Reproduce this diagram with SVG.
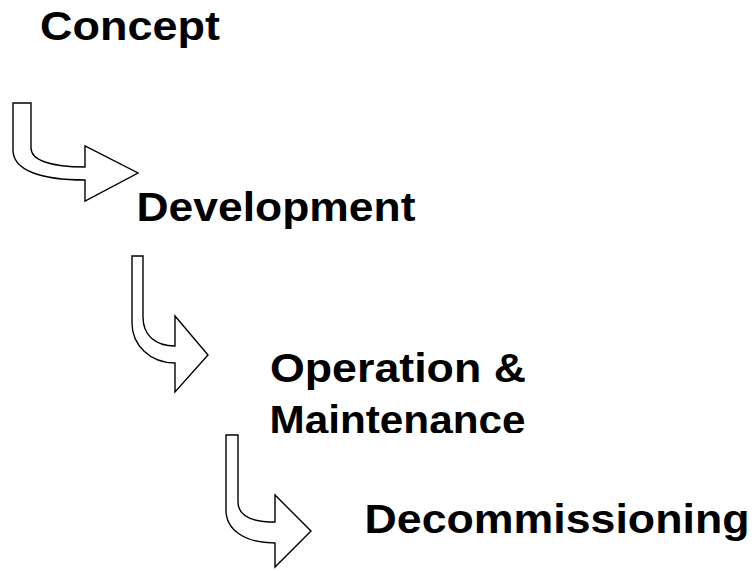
<svg xmlns="http://www.w3.org/2000/svg" width="755" height="571" viewBox="0 0 755 571">
<style>
.lbl{font-family:"Liberation Sans",Arial,sans-serif;font-weight:bold;font-size:40px;fill:#000}
.arr{fill:#fff;stroke:#000;stroke-width:1.4;stroke-linejoin:miter}
</style>
<defs><clipPath id="clipM"><rect x="250" y="390" width="300" height="43"/></clipPath></defs>
<rect width="755" height="571" fill="#fff"/>
<g id="connectors">
<path class="arr" d="M13,103 L31,103 L31,148 C31,160 50,167 85,167 L85,146 L138,173 L85,201 L85,180 C40,180 13,170 13,150 Z"/>
<path class="arr" d="M132,256 L143,256 L143,317 C143,335 155,346 175,346 L175,316 L208,355 L175,392 L175,363 C150,363 132,345 132,323 Z"/>
<path class="arr" d="M226,435 L238,435 L238,502 C238,515 250,522 275,522 L275,495 L311,531 L275,567 L275,543 C245,543 226,530 226,510 Z"/>
</g>
<g id="concept"><text class="lbl" x="40" y="40" textLength="180" lengthAdjust="spacingAndGlyphs">Concept</text></g>
<g id="development"><text class="lbl" x="136.5" y="221" textLength="279" lengthAdjust="spacingAndGlyphs">Development</text></g>
<g id="operation"><text class="lbl" x="270" y="382" textLength="256" lengthAdjust="spacingAndGlyphs">Operation &amp;</text><text class="lbl" x="269.5" y="434" textLength="256" lengthAdjust="spacingAndGlyphs" clip-path="url(#clipM)">Maintenance</text></g>
<g id="decommissioning"><text class="lbl" x="364.5" y="533" textLength="385" lengthAdjust="spacingAndGlyphs">Decommissioning</text></g>
</svg>
